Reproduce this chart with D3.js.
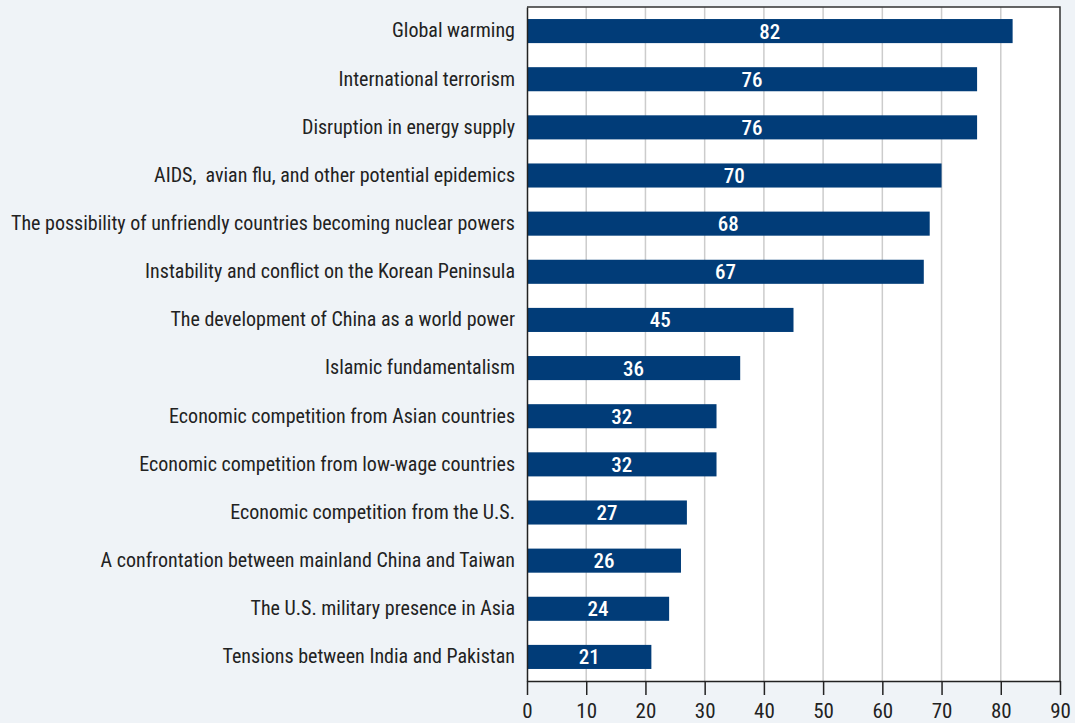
<!DOCTYPE html>
<html>
<head>
<meta charset="utf-8">
<script src="https://cdn.jsdelivr.net/npm/d3@7"></script>
<style>
  html, body { margin: 0; padding: 0; background: #eff3f7; }
  svg { display: block; }
  text { font-family: "Roboto Condensed", "Liberation Sans Narrow", sans-serif; }
</style>
</head>
<body>
<svg id="chart" width="1075" height="723"></svg>
<script>
// Share of respondents who see each issue as a critical threat (%)
const categories = [
  "Global warming",
  "International terrorism",
  "Disruption in energy supply",
  "AIDS,  avian flu, and other potential epidemics",
  "The possibility of unfriendly countries becoming nuclear powers",
  "Instability and conflict on the Korean Peninsula",
  "The development of China as a world power",
  "Islamic fundamentalism",
  "Economic competition from Asian countries",
  "Economic competition from low-wage countries",
  "Economic competition from the U.S.",
  "A confrontation between mainland China and Taiwan",
  "The U.S. military presence in Asia",
  "Tensions between India and Pakistan"
];
const values = [82, 76, 76, 70, 68, 67, 45, 36, 32, 32, 27, 26, 24, 21];
const tickValues = [0, 10, 20, 30, 40, 50, 60, 70, 80, 90];

const FONT = "'Roboto Condensed', 'Liberation Sans Narrow', sans-serif";
const svg = d3.select("#chart");
const frame = { left: 527, right: 1060, top: 7, bottom: 681 };

const x = d3.scaleLinear().domain([0, 90]).range([frame.left, frame.right]);
const y = d3.scaleBand().domain(categories).range([frame.top, frame.bottom])
  .paddingInner(0.5).paddingOuter(0.25);

// plot area
svg.append("rect")
  .attr("x", x(0)).attr("y", frame.top)
  .attr("width", x(90) - x(0)).attr("height", frame.bottom - frame.top)
  .attr("fill", "#ffffff");

// vertical gridlines
svg.append("g").selectAll("line")
  .data(tickValues.slice(1, -1))
  .join("line")
  .attr("x1", d => x(d)).attr("x2", d => x(d))
  .attr("y1", frame.top).attr("y2", frame.bottom)
  .attr("stroke", "#cccccc").attr("stroke-width", 1.5);

// bars
svg.append("g").selectAll("rect")
  .data(values)
  .join("rect")
  .attr("x", x(0))
  .attr("y", (d, i) => y(categories[i]))
  .attr("width", d => x(d) - x(0))
  .attr("height", y.bandwidth())
  .attr("fill", "#013c78");

// value labels inside bars
svg.append("g").selectAll("text")
  .data(values)
  .join("text")
  .attr("x", d => (x(d) + x(0)) / 2)
  .attr("y", (d, i) => y(categories[i]) + y.bandwidth() / 2)
  .attr("dy", "0.36em")
  .attr("text-anchor", "middle")
  .attr("fill", "#ffffff")
  .attr("font-size", 21)
  .attr("font-weight", 500)
  .style("font-family", FONT)
  .text(d => d);

// frame: top and right edges
svg.append("path")
  .attr("d", `M${x(0)},${frame.top}H${x(90)}V${frame.bottom}`)
  .attr("fill", "none").attr("stroke", "#333333").attr("stroke-width", 1.5);

// category axis
const yAxis = svg.append("g")
  .attr("transform", `translate(${x(0)},0)`)
  .call(d3.axisLeft(y).tickSize(0).tickPadding(12));
yAxis.select(".domain").attr("stroke", "#222").attr("stroke-width", 1.5);
yAxis.selectAll("text").attr("font-size", 20).attr("fill", "#222")
  .style("font-family", FONT)
  .style("white-space", "pre");

// value axis
const xAxis = svg.append("g")
  .attr("transform", `translate(0,${frame.bottom})`)
  .call(d3.axisBottom(x).tickValues(tickValues).tickSize(14).tickPadding(8).tickSizeOuter(0));
xAxis.select(".domain").attr("stroke", "#222").attr("stroke-width", 1.5);
xAxis.selectAll(".tick line").attr("stroke", "#222").attr("stroke-width", 1.5);
xAxis.selectAll("text").attr("font-size", 21).attr("fill", "#222")
  .style("font-family", FONT);
</script>
</body>
</html>
